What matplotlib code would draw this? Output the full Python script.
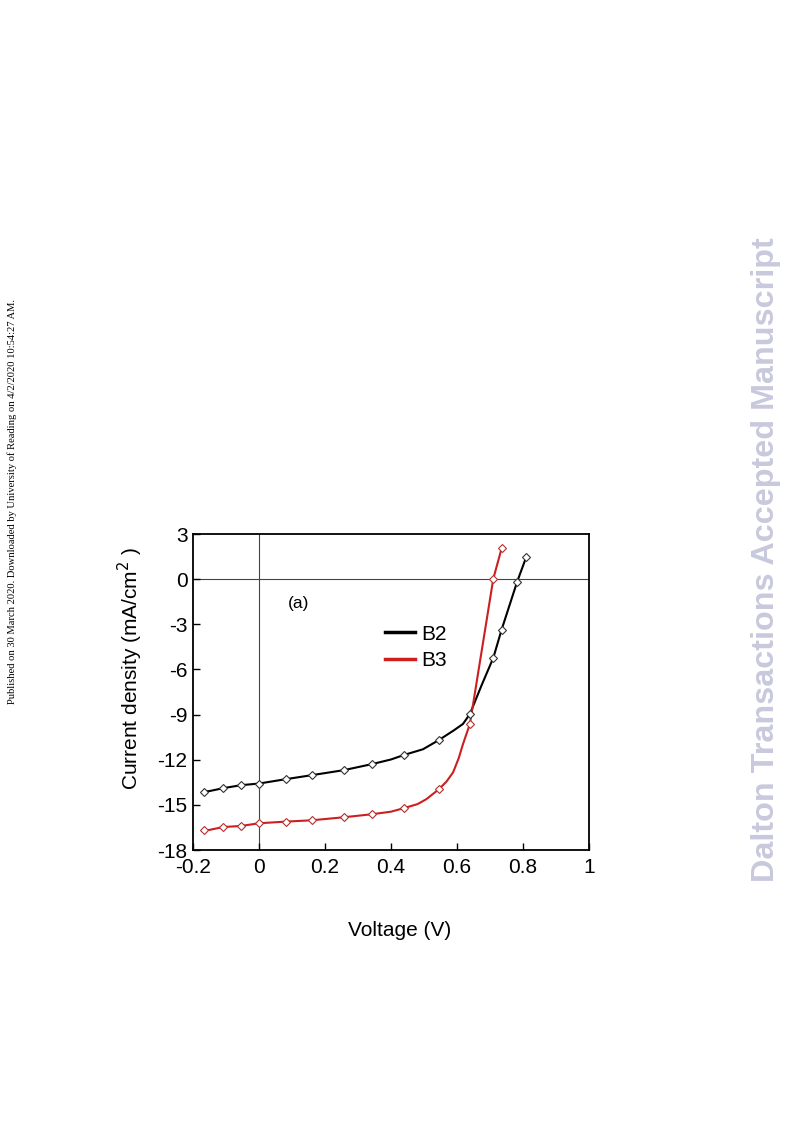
import matplotlib.pyplot as plt

# J-V curves, values
# markers
b2_vm = [-0.168, -0.109, -0.055, 0.0, 0.081, 0.161, 0.257, 0.342, 0.438, 0.545, 0.639, 0.710, 0.735, 0.782, 0.810]
b2_jm = [-14.11, -13.89, -13.69, -13.58, -13.29, -13.02, -12.69, -12.29, -11.69, -10.69, -8.96, -5.22, -3.36, -0.18, 1.49]
b3_vm = [-0.168, -0.109, -0.055, 0.0, 0.081, 0.161, 0.257, 0.342, 0.438, 0.545, 0.639, 0.710, 0.735]
b3_jm = [-16.69, -16.47, -16.40, -16.22, -16.11, -16.02, -15.82, -15.62, -15.22, -13.96, -9.62, 0.04, 2.04]

# lines (denser, includes points between markers)
b2_v = [-0.168, -0.150, -0.109, -0.055, 0.0, 0.081, 0.161, 0.257, 0.342, 0.400, 0.438, 0.497, 0.545, 0.590, 0.618, 0.639, 0.674, 0.710, 0.735, 0.782, 0.810]
b2_j = [-14.11, -14.08, -13.89, -13.69, -13.58, -13.29, -13.02, -12.69, -12.29, -11.98, -11.69, -11.30, -10.69, -10.05, -9.62, -8.96, -7.07, -5.22, -3.36, -0.18, 1.49]
b3_v = [-0.168, -0.150, -0.109, -0.055, 0.0, 0.081, 0.161, 0.257, 0.342, 0.400, 0.438, 0.480, 0.507, 0.545, 0.568, 0.588, 0.605, 0.618, 0.639, 0.669, 0.689, 0.710, 0.735]
b3_j = [-16.69, -16.66, -16.47, -16.40, -16.22, -16.11, -16.02, -15.82, -15.62, -15.45, -15.22, -14.95, -14.62, -13.96, -13.45, -12.84, -11.90, -10.96, -9.62, -5.54, -2.82, 0.04, 2.04]

plt.rcParams['font.family'] = ['Liberation Sans', 'DejaVu Sans']
plt.rcParams['axes.unicode_minus'] = False

fig = plt.figure(figsize=(7.93, 11.21), dpi=100)
ax = fig.add_axes([0.2434, 0.2417, 0.4994, 0.2819])

ax.axhline(0, color='#444444', lw=0.8, zorder=1)
ax.axvline(0, color='#444444', lw=0.8, zorder=1)

ax.plot(b2_v, b2_j, color='black', lw=1.5, label='B2', zorder=2)
ax.plot(b3_v, b3_j, color='#cc1f1f', lw=1.5, label='B3', zorder=2)
ax.plot(b2_vm, b2_jm, ls='none', marker='D', ms=3.6, mfc='white', mec='#333333', mew=0.8, zorder=3)
ax.plot(b3_vm, b3_jm, ls='none', marker='D', ms=3.6, mfc='white', mec='#b03030', mew=0.8, zorder=3)

ax.set_xlim(-0.2, 1.0)
ax.set_ylim(-18, 3)
ax.set_xticks([-0.2, 0, 0.2, 0.4, 0.6, 0.8, 1.0])
ax.set_xticklabels(['-0.2', '0', '0.2', '0.4', '0.6', '0.8', '1'])
ax.set_yticks([3, 0, -3, -6, -9, -12, -15, -18])
ax.tick_params(direction='in', length=5, width=1, labelsize=15, pad=4)
ax.tick_params(axis='x', pad=6)
for s in ax.spines.values():
    s.set_linewidth(1.3)

ax.text(0.088, -1.6, '(a)', fontsize=12.5, va='center')
leg = ax.legend(loc='upper left', bbox_to_anchor=(0.464, 0.74), frameon=False, fontsize=15,
                handlelength=1.45, handletextpad=0.3, labelspacing=0.35, borderaxespad=0)
for h in leg.get_lines():
    h.set_linewidth(2.5)

fig.text(130 / 793, 1 - 669 / 1121, 'Current density (mA/cm$^2$ )', rotation=90,
         ha='center', va='center', fontsize=15)
fig.text(400 / 793, 1 - 931 / 1121, 'Voltage (V)', ha='center', va='center', fontsize=15)

fig.text(12 / 793, 1 - 501 / 1121, 'Published on 30 March 2020. Downloaded by University of Reading on 4/2/2020 10:54:27 AM.',
         rotation=90, ha='center', va='center', fontsize=7.6, family='Liberation Serif')
fig.text(766 / 793, 1 - 560 / 1121, 'Dalton Transactions Accepted Manuscript', rotation=90,
         ha='center', va='center', fontsize=23.3, fontweight='bold', color='#c9c9dd')

fig.savefig('out.png', dpi=100)
